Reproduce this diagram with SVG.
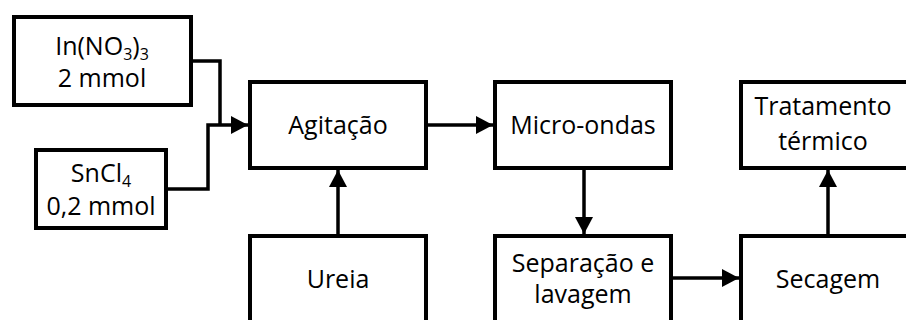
<svg xmlns="http://www.w3.org/2000/svg" width="906" height="320" viewBox="0 0 906 320">
<style>
.box{fill:#fff;stroke:#000;stroke-width:4}
.t{font-family:"Open Sans","Liberation Sans",sans-serif;font-size:25px;fill:#000;text-anchor:middle}
.s{font-size:16px}
.c{fill:none;stroke:#000;stroke-width:3.5}
</style>
<defs>
<marker id="ah" markerUnits="userSpaceOnUse" markerWidth="18" markerHeight="20" refX="17" refY="9" orient="auto">
<path d="M0,0 L17,9 L0,18 z" fill="#000"/>
</marker>
</defs>
<rect width="906" height="320" fill="#fff"/>
<g id="connectors">
<path class="c" d="M191,61 H220 V125"/>
<path class="c" d="M166,189 H208 V125 H248" marker-end="url(#ah)"/>
<path class="c" d="M426,125 H493" marker-end="url(#ah)"/>
<path class="c" d="M338,236 V170" marker-end="url(#ah)"/>
<path class="c" d="M584,168 V234" marker-end="url(#ah)"/>
<path class="c" d="M671,278 H739" marker-end="url(#ah)"/>
<path class="c" d="M828,236 V170" marker-end="url(#ah)"/>
</g>
<g id="innitrate">
<rect class="box" x="14" y="17" width="177" height="88"/>
<text class="t" x="102" y="55">In(NO<tspan class="s" baseline-shift="-5">3</tspan>)<tspan class="s" baseline-shift="-5">3</tspan></text>
<text class="t" x="102" y="87">2 mmol</text>
</g>
<g id="sncl4">
<rect class="box" x="36" y="150" width="130" height="78"/>
<text class="t" x="101" y="182">SnCl<tspan class="s" baseline-shift="-5">4</tspan></text>
<text class="t" x="101" y="215">0,2 mmol</text>
</g>
<g id="agitacao">
<rect class="box" x="250" y="82" width="176" height="86"/>
<text class="t" x="338" y="134">Agitação</text>
</g>
<g id="microondas">
<rect class="box" x="495" y="82" width="176" height="86"/>
<text class="t" x="583" y="134">Micro-ondas</text>
</g>
<g id="tratamento">
<rect class="box" x="741" y="82" width="176" height="86"/>
<text class="t" x="823" y="115">Tratamento</text>
<text class="t" x="823" y="150">térmico</text>
</g>
<g id="ureia">
<rect class="box" x="250" y="236" width="176" height="100"/>
<text class="t" x="338" y="288">Ureia</text>
</g>
<g id="separacao">
<rect class="box" x="495" y="236" width="176" height="100"/>
<text class="t" x="583" y="272">Separação e</text>
<text class="t" x="583" y="303">lavagem</text>
</g>
<g id="secagem">
<rect class="box" x="741" y="236" width="176" height="100"/>
<text class="t" x="828" y="288">Secagem</text>
</g>
</svg>
